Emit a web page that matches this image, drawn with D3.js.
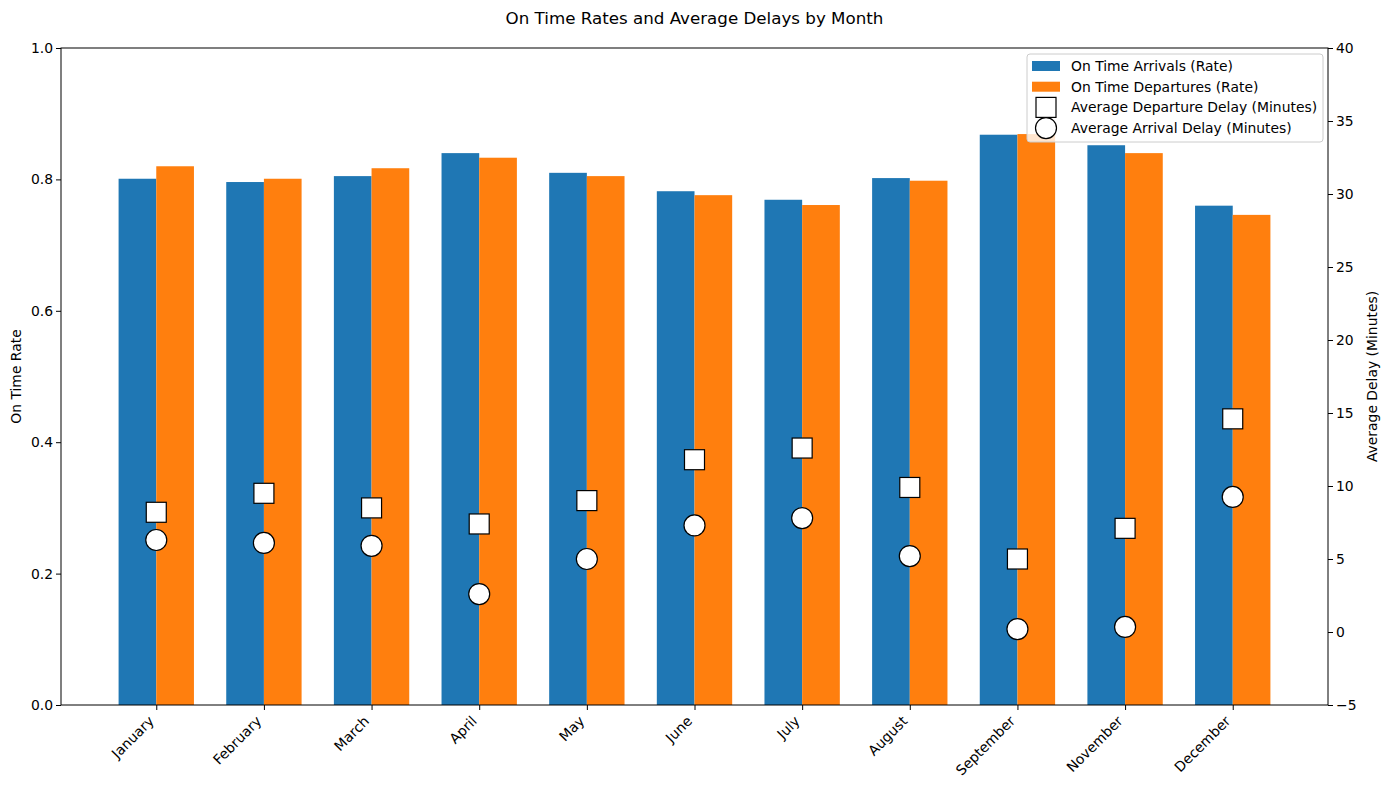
<!DOCTYPE html>
<html>
<head>
<meta charset="utf-8">
<script src="https://cdn.jsdelivr.net/npm/d3@7"></script>
<style>
  body { margin: 0; background: #fff; }
  text { font-family: "DejaVu Sans", sans-serif; }
</style>
</head>
<body>
<div id="chart"></div>
<script>
// Data
const months = ["January", "February", "March", "April", "May", "June", "July", "August", "September", "November", "December"];
const arrivalRate = [0.801, 0.796, 0.805, 0.840, 0.810, 0.782, 0.769, 0.802, 0.868, 0.852, 0.760];
const departureRate = [0.820, 0.801, 0.817, 0.833, 0.805, 0.776, 0.761, 0.798, 0.869, 0.840, 0.746];
const departureDelay = [8.2, 9.5, 8.5, 7.4, 9.0, 11.8, 12.6, 9.9, 5.0, 7.1, 14.6];
const arrivalDelay = [6.3, 6.1, 5.9, 2.6, 5.0, 7.3, 7.8, 5.2, 0.2, 0.35, 9.25];
const rateTicks = [0, 0.2, 0.4, 0.6, 0.8, 1.0];
const delayTicks = [-5, 0, 5, 10, 15, 20, 25, 30, 35, 40];

const margin = { top: 48, right: 61, bottom: 84, left: 61 };
const W = 1389, H = 789;
const width = W - margin.left - margin.right;
const height = H - margin.top - margin.bottom;
const barW = 0.35;

const svg = d3.select("#chart")
  .append("svg")
    .attr("width", W)
    .attr("height", H);

const g = svg.append("g")
  .attr("transform", "translate(" + margin.left + "," + margin.top + ")");

// X scale on index positions, like matplotlib with 5% margins
const pad = (months.length - 1 + 2 * barW) * 0.05;
const x = d3.scaleLinear()
  .domain([-barW - pad, months.length - 1 + barW + pad])
  .range([0, width]);

const y = d3.scaleLinear().domain([0, 1]).range([height, 0]);
const y2 = d3.scaleLinear().domain([-5, 40]).range([height, 0]);

// Bars
g.selectAll(".arr")
  .data(arrivalRate)
  .join("rect")
    .attr("x", (d, i) => x(i - barW))
    .attr("y", d => y(d))
    .attr("width", x(barW) - x(0))
    .attr("height", d => height - y(d))
    .attr("fill", "#1f77b4");

g.selectAll(".dep")
  .data(departureRate)
  .join("rect")
    .attr("x", (d, i) => x(i))
    .attr("y", d => y(d))
    .attr("width", x(barW) - x(0))
    .attr("height", d => height - y(d))
    .attr("fill", "#ff7f0e");

// Markers on the right axis
const sq = 20;
g.selectAll(".sq")
  .data(departureDelay)
  .join("rect")
    .attr("x", (d, i) => x(i) - sq / 2)
    .attr("y", d => y2(d) - sq / 2)
    .attr("width", sq)
    .attr("height", sq)
    .attr("fill", "#fff")
    .attr("stroke", "#000")
    .attr("stroke-width", 1.2);

g.selectAll(".circ")
  .data(arrivalDelay)
  .join("circle")
    .attr("cx", (d, i) => x(i))
    .attr("cy", d => y2(d))
    .attr("r", 10.5)
    .attr("fill", "#fff")
    .attr("stroke", "#000")
    .attr("stroke-width", 1.2);

// Axes
const fs = "13.9px";
const xAxis = g.append("g")
  .attr("transform", "translate(0," + height + ")")
  .call(d3.axisBottom(x).tickValues(d3.range(months.length)).tickFormat(i => months[i]).tickSize(5).tickSizeOuter(0));
xAxis.selectAll("text")
  .style("font-size", fs)
  .attr("text-anchor", "end")
  .attr("x", 0)
  .attr("y", 0)
  .attr("dy", 0)
  .attr("transform", "translate(-2,17) rotate(-45)");

const yAxis = g.append("g")
  .call(d3.axisLeft(y).tickValues(rateTicks).tickFormat(d3.format(".1f")).tickSize(5).tickSizeOuter(0));
yAxis.selectAll("text").style("font-size", fs);

const yAxis2 = g.append("g")
  .attr("transform", "translate(" + width + ",0)")
  .call(d3.axisRight(y2).tickValues(delayTicks).tickSize(5).tickSizeOuter(0));
yAxis2.selectAll("text").style("font-size", fs);

g.selectAll(".domain").remove();
g.append("rect")
  .attr("width", width)
  .attr("height", height)
  .attr("fill", "none")
  .attr("stroke", "#000")
  .attr("stroke-width", 1);

// Labels
svg.append("text")
  .attr("x", margin.left + width / 2)
  .attr("y", 24)
  .attr("text-anchor", "middle")
  .style("font-size", "16.7px")
  .text("On Time Rates and Average Delays by Month");

svg.append("text")
  .attr("transform", "translate(21," + (margin.top + height / 2) + ") rotate(-90)")
  .attr("text-anchor", "middle")
  .style("font-size", fs)
  .text("On Time Rate");

svg.append("text")
  .attr("transform", "translate(1377," + (margin.top + height / 2) + ") rotate(-90)")
  .attr("text-anchor", "middle")
  .style("font-size", fs)
  .text("Average Delay (Minutes)");

// Legend
const legend = svg.append("g").attr("transform", "translate(1027,54)");
legend.append("rect")
  .attr("width", 296)
  .attr("height", 88)
  .attr("rx", 3)
  .attr("fill", "#fff")
  .attr("fill-opacity", 0.8)
  .attr("stroke", "#ccc");

const items = [
  { label: "On Time Arrivals (Rate)", type: "bar", color: "#1f77b4" },
  { label: "On Time Departures (Rate)", type: "bar", color: "#ff7f0e" },
  { label: "Average Departure Delay (Minutes)", type: "square" },
  { label: "Average Arrival Delay (Minutes)", type: "circle" }
];

items.forEach(function (it, i) {
  const cy = 12 + i * 20.7;
  if (it.type === "bar") {
    legend.append("rect").attr("x", 5).attr("y", cy - 5).attr("width", 28).attr("height", 10).attr("fill", it.color);
  } else if (it.type === "square") {
    legend.append("rect").attr("x", 9).attr("y", cy - 10).attr("width", 20).attr("height", 20)
      .attr("fill", "#fff").attr("stroke", "#000").attr("stroke-width", 1.2);
  } else {
    legend.append("circle").attr("cx", 19).attr("cy", cy).attr("r", 10.5)
      .attr("fill", "#fff").attr("stroke", "#000").attr("stroke-width", 1.2);
  }
  legend.append("text")
    .attr("x", 44)
    .attr("y", cy)
    .attr("dy", "0.35em")
    .style("font-size", fs)
    .text(it.label);
});
</script>
</body>
</html>
